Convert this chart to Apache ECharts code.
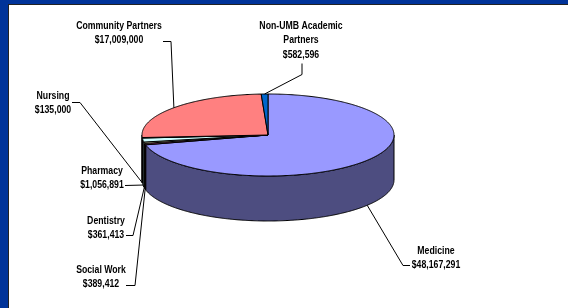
<!DOCTYPE html>
<html>
<head>
<meta charset="utf-8">
<script src="https://cdn.jsdelivr.net/npm/echarts@6/dist/echarts.min.js"></script>
<style>
html, body { margin: 0; padding: 0; background: #003399; overflow: hidden; }
#frame { position: absolute; left: 8px; top: 4px; width: 560px; height: 304px; background: #fff;
         border-top: 1px solid #222; border-left: 1px solid #222; box-sizing: border-box; }
#main { position: absolute; left: 0; top: 0; width: 568px; height: 308px; }
</style>
</head>
<body>
<div id="frame"></div>
<div id="main"></div>
<script>
// slices, clockwise from 12 o'clock
const names = ['Medicine', 'Social Work', 'Dentistry', 'Pharmacy', 'Nursing', 'Community Partners', 'Non-UMB Academic\nPartners'];
const values = [48167291, 389412, 361413, 1056891, 135000, 17009000, 582596];
const valueLabels = ['$48,167,291', '$389,412', '$361,413', '$1,056,891', '$135,000', '$17,009,000', '$582,596'];

const colors = ['#9999FF', '#993366', '#FFFFCC', '#CCFFFF', '#660066', '#FF8080', '#0066CC'];

// pie geometry (ellipse top face + depth of the wall)
const cx = 268, cy = 135, rx = 126, ry = 41, depth = 45;
const lh = 14.5;
const font = 'bold 10.5px "Liberation Sans", Arial, sans-serif';
const squeeze = 0.83;   // labels in the original are narrow

// label placement: text centre x, first line y, leader start, leader elbow
const labelLayout = [
    { x: 436, y: 251, sx: 410, sy: 265, ex: 403, ey: 265 },
    { x: 101, y: 270, sx: 126, sy: 285, ex: 135, ey: 285 },
    { x: 106, y: 221, sx: 126, sy: 235, ex: 133, ey: 235 },
    { x: 102, y: 171, sx: 125, sy: 185, ex: 125, ey: 185 },
    { x: 53, y: 96, sx: 72, sy: 102, ex: 80, ey: 102 },
    { x: 119, y: 26, sx: 163, sy: 41, ex: 171, ey: 41 },
    { x: 301, y: 26, sx: 302, sy: 63, ex: 302, ey: 74 }
];

const total = values.reduce((a, b) => a + b, 0);
const starts = [];
let acc = 0;
values.forEach(v => { starts.push(acc / total * 360); acc += v; });

function pt(deg, dy) {
    const r = deg * Math.PI / 180;
    return [cx + rx * Math.sin(r), cy - ry * Math.cos(r) + (dy || 0)];
}

function arc(a0, a1, dy) {
    const out = [];
    const n = Math.max(2, Math.ceil(Math.abs(a1 - a0) / 0.5) + 1);
    for (let k = 0; k < n; k++) {
        out.push(pt(a0 + (a1 - a0) * k / (n - 1), dy));
    }
    return out;
}

function darken(hex, f) {
    const n = parseInt(hex.slice(1), 16);
    const r = Math.round(((n >> 16) & 255) * f);
    const g = Math.round(((n >> 8) & 255) * f);
    const b = Math.round((n & 255) * f);
    return 'rgb(' + r + ',' + g + ',' + b + ')';
}

const chart = echarts.init(document.getElementById('main'), null, { renderer: 'canvas' });
chart.setOption({
    animation: false,
    series: [{
        type: 'custom',
        coordinateSystem: 'none',
        silent: true,
        data: values,
        renderItem: function (params, api) {
            const i = params.dataIndex;
            const a0 = starts[i];
            const a1 = a0 + values[i] / total * 360;
            const children = [];

            // front wall
            const s0 = Math.max(a0, 90), s1 = Math.min(a1, 270);
            if (s1 > s0) {
                children.push({
                    type: 'polygon',
                    z2: 1,
                    shape: { points: arc(s0, s1, 0).concat(arc(s1, s0, depth)) },
                    style: { fill: darken(colors[i], 0.5), stroke: '#000', lineWidth: 1, lineJoin: 'round' }
                });
            }

            // top face
            children.push({
                type: 'polygon',
                z2: 2,
                shape: { points: [[cx, cy]].concat(arc(a0, a1, 0)) },
                style: { fill: colors[i], stroke: '#000', lineWidth: 1, lineJoin: 'round' }
            });

            // leader line to the middle of the slice
            const mid = (a0 + a1) / 2;
            const front = Math.cos(mid * Math.PI / 180) < 0;
            const end = pt(mid, front ? depth : 0);
            const L = labelLayout[i];
            children.push({
                type: 'polyline',
                z2: 3,
                shape: { points: [[L.sx, L.sy + 0.5], [L.ex, L.ey + 0.5], end] },
                style: { fill: null, stroke: '#000', lineWidth: 1 }
            });

            children.push({
                type: 'text',
                z2: 4,
                x: L.x,
                y: L.y - lh / 2,
                scaleX: squeeze,
                style: {
                    text: names[i] + '\n' + valueLabels[i],
                    x: 0,
                    y: 0,
                    align: 'center',
                    verticalAlign: 'top',
                    lineHeight: lh,
                    font: font,
                    fill: '#000'
                }
            });

            return { type: 'group', children: children };
        }
    }]
});
</script>
</body>
</html>
